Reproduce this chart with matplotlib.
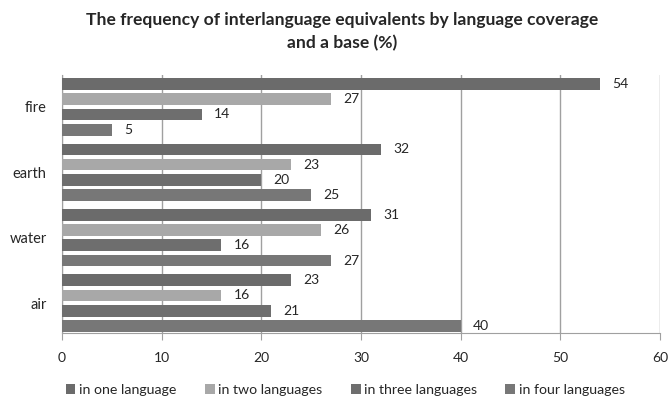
import matplotlib
matplotlib.use("Agg")
import matplotlib.pyplot as plt
import numpy as np
from matplotlib.patches import Patch

plt.rcParams['font.family'] = ['Lato', 'DejaVu Sans']

categories = ["fire", "earth", "water", "air"]
series_names = ["in one language", "in two languages", "in three languages", "in four languages"]
one_lang = [54, 32, 31, 23]
two_lang = [27, 23, 26, 16]
three_lang = [14, 20, 16, 21]
four_lang = [5, 25, 27, 40]
series_values = [one_lang, two_lang, three_lang, four_lang]
series_colors = ["#6b6b6b", "#a8a8a8", "#6e6e6e", "#777777"]
x_ticks = [0, 10, 20, 30, 40, 50, 60]

fig = plt.figure(figsize=(6.69, 3.99), dpi=100)
ax = fig.add_axes([0.0927, 0.1654, 0.8938, 0.6466])

pitch = 0.233
height = 0.178
y_base = np.arange(len(categories))
for i, (vals, col) in enumerate(zip(series_values, series_colors)):
    ys = y_base + (i - 1.5) * pitch
    ax.barh(ys, vals, height=height, color=col, zorder=3)
    for y, v in zip(ys, vals):
        ax.text(v + 1.2, y, str(v), va='center', ha='left', fontsize=10,
                color='#262626', zorder=4)

ax.set_ylim(3.457, -0.487)
ax.set_xlim(0, 60)
ax.set_xticks(x_ticks)
ax.set_xticklabels([str(t) for t in x_ticks], fontsize=10, color='#262626')
ax.set_yticks(y_base)
ax.set_yticklabels(categories, fontsize=10.5, color='#262626')
ax.tick_params(axis='y', length=0, pad=11)
ax.tick_params(axis='x', length=5, color='#a0a0a0', pad=9, direction='out')

ax.grid(axis='x', color='#a0a0a0', linewidth=1, zorder=0)
for side in ['top', 'right']:
    ax.spines[side].set_visible(False)
ax.spines['left'].set_color('#a0a0a0')
ax.spines['bottom'].set_color('#a0a0a0')

fig.text(0.511, 0.95, "The frequency of interlanguage equivalents by language coverage",
         ha='center', va='center', fontsize=12.6, fontweight='bold', color='#262626')
fig.text(0.511, 0.892, "and a base (%)",
         ha='center', va='center', fontsize=12.6, fontweight='bold', color='#262626')

handles = [Patch(facecolor=c, edgecolor='none') for c in series_colors]
fig.legend(handles, series_names, loc='center', bbox_to_anchor=(0.516, 0.022),
           ncol=4, frameon=False, fontsize=10.2, handlelength=0.7, handleheight=0.7,
           handletextpad=0.25, columnspacing=2.0, labelcolor='#262626',
           borderaxespad=0, borderpad=0)

fig.savefig("out.png", dpi=100)
